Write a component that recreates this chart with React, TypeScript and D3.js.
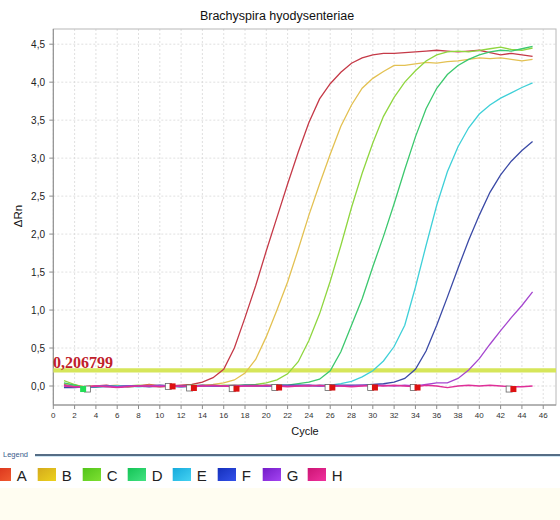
import React from "react";
import * as d3 from "d3";

const title = "Brachyspira hyodysenteriae";
const cycles = d3.range(1, 46);
const seriesNames = ["A", "B", "C", "D", "E", "F", "G", "H"];
const lineColors = ["#c53a48", "#e3c152", "#8fd63f", "#3cc86e", "#3fd0d8", "#3b4aa6", "#a546cf", "#df2f98"];
const swatchFrom = ["#d8301a", "#d4aa1c", "#52c41a", "#14c456", "#16aadc", "#1530bc", "#741cc8", "#cc1474"];
const swatchTo = ["#f05a30", "#ecd21e", "#7ee032", "#44e282", "#44d2f2", "#3452ea", "#a444f2", "#f0329e"];

const seriesA = [0.02, 0.0, -0.01, 0.0, 0.01, -0.01, 0.0, 0.0, 0.02, 0.0, 0.0, 0.01, 0.02, 0.05, 0.11, 0.22, 0.5, 0.9, 1.32, 1.78, 2.22, 2.66, 3.08, 3.47, 3.78, 3.98, 4.13, 4.25, 4.32, 4.36, 4.38, 4.38, 4.39, 4.4, 4.41, 4.42, 4.41, 4.4, 4.41, 4.42, 4.39, 4.36, 4.38, 4.36, 4.34];
const seriesB = [0.03, 0.01, -0.01, 0.0, 0.0, 0.01, -0.01, 0.0, 0.01, 0.0, -0.01, 0.0, 0.0, 0.01, 0.02, 0.04, 0.08, 0.17, 0.35, 0.65, 1.0, 1.37, 1.8, 2.25, 2.66, 3.05, 3.42, 3.7, 3.92, 4.05, 4.14, 4.22, 4.22, 4.24, 4.26, 4.25, 4.27, 4.28, 4.3, 4.32, 4.31, 4.32, 4.3, 4.28, 4.3];
const seriesC = [0.07, 0.02, -0.02, -0.01, 0.0, -0.01, 0.0, 0.01, 0.0, -0.01, 0.0, 0.0, 0.01, 0.0, 0.0, 0.01, 0.01, 0.01, 0.02, 0.04, 0.08, 0.16, 0.32, 0.6, 0.95, 1.38, 1.85, 2.35, 2.8, 3.2, 3.55, 3.8, 4.0, 4.15, 4.28, 4.36, 4.4, 4.41, 4.4, 4.42, 4.44, 4.46, 4.43, 4.42, 4.45];
const seriesD = [0.04, 0.01, -0.02, -0.01, 0.0, 0.0, -0.01, 0.0, 0.0, 0.01, 0.0, -0.01, 0.0, 0.0, 0.01, 0.0, 0.0, 0.01, 0.0, 0.01, 0.01, 0.01, 0.03, 0.05, 0.09, 0.2, 0.45, 0.8, 1.15, 1.57, 1.97, 2.4, 2.85, 3.28, 3.65, 3.92, 4.1, 4.22, 4.3, 4.36, 4.4, 4.42, 4.41, 4.44, 4.47];
const seriesE = [0.0, -0.01, -0.02, -0.01, -0.01, 0.0, 0.0, -0.01, 0.0, 0.0, 0.0, -0.01, 0.0, 0.0, 0.0, 0.0, 0.0, 0.0, 0.0, 0.0, 0.01, 0.0, 0.01, 0.0, 0.01, 0.01, 0.03, 0.06, 0.12, 0.2, 0.33, 0.52, 0.8, 1.3, 1.85, 2.38, 2.82, 3.15, 3.4, 3.58, 3.7, 3.79, 3.86, 3.93, 3.99];
const seriesF = [-0.02, -0.02, -0.01, -0.01, 0.0, -0.01, 0.0, 0.0, -0.01, 0.0, 0.0, 0.0, 0.0, 0.01, 0.0, 0.0, 0.0, 0.01, 0.01, 0.0, 0.01, 0.01, 0.01, 0.01, 0.0, 0.01, 0.01, 0.01, 0.01, 0.02, 0.03, 0.05, 0.1, 0.22, 0.46, 0.8, 1.17, 1.55, 1.92, 2.25, 2.55, 2.78, 2.96, 3.1, 3.22];
const seriesG = [0.01, -0.01, -0.02, 0.0, 0.0, -0.01, 0.0, 0.0, 0.0, 0.01, 0.0, -0.01, 0.0, 0.0, 0.0, 0.0, 0.01, 0.0, 0.0, 0.0, 0.0, 0.0, 0.0, 0.01, 0.0, 0.0, 0.0, 0.0, 0.01, 0.0, 0.01, 0.0, 0.01, 0.0, 0.02, 0.04, 0.04, 0.1, 0.21, 0.36, 0.55, 0.73, 0.9, 1.06, 1.24];
const seriesH = [0.0, -0.01, -0.01, 0.0, -0.01, -0.02, -0.01, 0.0, 0.0, -0.01, 0.0, 0.0, -0.01, 0.0, 0.01, 0.0, -0.01, 0.0, 0.0, 0.01, 0.0, -0.01, 0.0, 0.0, 0.01, 0.0, 0.0, -0.01, 0.0, 0.01, 0.0, 0.01, 0.0, -0.01, 0.01, 0.0, -0.02, 0.0, 0.01, 0.0, 0.01, 0.0, -0.01, -0.01, 0.0];
const allSeries = [seriesA, seriesB, seriesC, seriesD, seriesE, seriesF, seriesG, seriesH];

const threshold = 0.206799;
const thresholdLabel = "0,206799";
const xTicks = d3.range(0, 47, 2);
const yTicks = [0, 0.5, 1, 1.5, 2, 2.5, 3, 3.5, 4, 4.5];

const openMarkerCycles = [3.2, 10.8, 12.8, 16.8, 20.8, 25.8, 29.8, 33.8, 42.8];
const openMarkerValues = [-0.04, -0.005, -0.026, -0.035, -0.02, -0.02, -0.02, -0.02, -0.04];
const filledMarkerCycles = [2.8, 11.2, 13.2, 17.2, 21.2, 26.2, 30.2, 34.2, 43.2];
const filledMarkerValues = [-0.04, -0.005, -0.026, -0.035, -0.02, -0.02, -0.02, -0.02, -0.04];
const filledMarkerColors = ["#22dd55", "#dd1111", "#dd1111", "#dd1111", "#dd1111", "#dd1111", "#dd1111", "#dd1111", "#dd1111"];

const fmt = (v: number) => d3.format(".1f")(v).replace(".", ",");

export default function App() {
  const W = 560, H = 520;
  const left = 53.3, right = 556, top = 29, bottom = 405;
  const x = d3.scaleLinear().domain([0, 47.2]).range([left, right]);
  const y = d3.scaleLinear().domain([-0.25, 4.7]).range([bottom, top]);
  const line = d3
    .line<number>()
    .x((_, i) => x(cycles[i]))
    .y((d) => y(d));
  const sans = "'Liberation Sans', Arial, sans-serif";
  const ms = 6;

  return (
    <svg
      width={W}
      height={H}
      style={{ position: "absolute", left: 0, top: 0, background: "#fff" }}
      fontFamily={sans}
    >
      <defs>
        {seriesNames.map((n, i) => (
          <linearGradient key={n} id={"sw" + n} x1="0" y1="0" x2="1" y2="1">
            <stop offset="0" stopColor={swatchFrom[i]} />
            <stop offset="1" stopColor={swatchTo[i]} />
          </linearGradient>
        ))}
        <clipPath id="plotClip">
          <rect x={left} y={top} width={right - left} height={bottom - top} />
        </clipPath>
      </defs>
      <rect x={0} y={0} width={W} height={H} fill="#ffffff" />
      <rect x={0} y={488} width={W} height={H - 488} fill="#fffdf1" />

      <text x={277} y={20} fontSize={12.5} textAnchor="middle" fill="#111">
        {title}
      </text>

      {/* grid */}
      {xTicks.map((t) => (
        <line key={"gx" + t} x1={x(t)} x2={x(t)} y1={top} y2={bottom} stroke="#d8d8d8" strokeWidth={0.8} strokeDasharray="2,2" />
      ))}
      {yTicks.map((t) => (
        <line key={"gy" + t} x1={left} x2={right} y1={y(t)} y2={y(t)} stroke="#d8d8d8" strokeWidth={0.8} strokeDasharray="2,2" />
      ))}

      {/* frame */}
      <rect x={left} y={top} width={right - left} height={bottom - top} fill="none" stroke="#b8b8b8" strokeWidth={1} />
      <line x1={left} x2={left} y1={top} y2={bottom} stroke="#8c8c8c" />
      <line x1={left} x2={right} y1={bottom} y2={bottom} stroke="#8c8c8c" />

      {/* y ticks */}
      {yTicks.map((t) => (
        <g key={"yt" + t}>
          <line x1={left - 4} x2={left} y1={y(t)} y2={y(t)} stroke="#8c8c8c" />
          <text x={45} y={y(t) + 3.5} fontSize={10} textAnchor="end" fill="#222">
            {fmt(t)}
          </text>
        </g>
      ))}
      {/* x ticks */}
      {xTicks.map((t) => (
        <g key={"xt" + t}>
          <line x1={x(t)} x2={x(t)} y1={bottom} y2={bottom + 4} stroke="#8c8c8c" />
          <text x={x(t)} y={418} fontSize={8} textAnchor="middle" fill="#333">
            {t}
          </text>
        </g>
      ))}
      <text x={305} y={435} fontSize={11} textAnchor="middle" fill="#111">
        Cycle
      </text>
      <text transform={`translate(21.5,216) rotate(-90)`} fontSize={11.5} textAnchor="middle" fill="#111">
        ΔRn
      </text>

      {/* threshold */}
      <line x1={left} x2={right} y1={y(threshold)} y2={y(threshold)} stroke="#d6e65a" strokeWidth={4.3} />

      {/* curves */}
      <g clipPath="url(#plotClip)">
        {allSeries.map((s, i) => (
          <path key={seriesNames[i]} d={line(s) || ""} fill="none" stroke={lineColors[i]} strokeWidth={1.3} />
        ))}
      </g>

      {/* baseline markers */}
      {openMarkerCycles.map((c, i) => (
        <rect key={"om" + i} x={x(c) - ms / 2} y={y(openMarkerValues[i]) - ms / 2} width={ms} height={ms} fill="#fff" stroke="#666" strokeWidth={0.8} />
      ))}
      {filledMarkerCycles.map((c, i) => (
        <rect key={"fm" + i} x={x(c) - ms / 2} y={y(filledMarkerValues[i]) - ms / 2} width={ms} height={ms} fill={filledMarkerColors[i]} />
      ))}

      <text x={53} y={367.5} fontSize={16} fontWeight="bold" fontFamily="'Liberation Serif', 'Times New Roman', serif" fill="#c0202a">
        {thresholdLabel}
      </text>

      {/* legend */}
      <text x={3} y={457} fontSize={7.5} fill="#3a5b8c">
        Legend
      </text>
      <line x1={35} x2={W} y1={455} y2={455} stroke="#1e3c5c" strokeWidth={1.3} />
      <line x1={35} x2={W} y1={456.5} y2={456.5} stroke="#cfe6f4" strokeWidth={1} />
      {seriesNames.map((n, i) => {
        const sx = -7.3 + i * 45;
        return (
          <g key={"lg" + n}>
            <rect x={sx} y={468} width={18.3} height={13} fill={`url(#sw${n})`} />
            <text x={sx + 24} y={480.5} fontSize={15} fill="#222">
              {n}
            </text>
          </g>
        );
      })}
    </svg>
  );
}
